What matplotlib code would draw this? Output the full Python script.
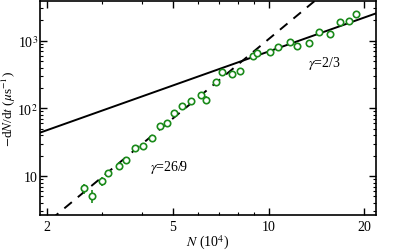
import matplotlib
matplotlib.use("Agg")
import matplotlib.pyplot as plt
from matplotlib.ticker import FixedLocator, FixedFormatter, LogLocator, NullFormatter
import numpy as np

plt.rcParams['font.family'] = ['Liberation Serif', 'DejaVu Serif']
plt.rcParams['mathtext.fontset'] = 'stix'

# 数据点 N (10^4), -dN/dt (us^-1)
n_pts = [2.62, 2.79, 2.98, 3.13, 3.37, 3.57, 3.81, 4.03, 4.30, 4.56, 4.80,
         5.05, 5.34, 5.71, 6.12, 6.36, 6.84, 7.13, 7.69, 8.15, 8.90, 9.22,
         10.07, 10.73, 11.71, 12.32, 13.37, 14.45, 15.65, 16.75, 17.88, 18.86]
rate_pts = [6.6, 5.1, 8.4, 11.1, 14.2, 17.1, 25.6, 28.0, 36.1, 55.4, 60.7,
            85.3, 109, 127, 156, 133, 248, 348, 322, 357, 600, 658,
            674, 815, 957, 835, 925, 1345, 1269, 1890, 1936, 2506]
# 相对误差
rel_err = [0.17, 0.22, 0.15, 0.12, 0.12, 0.10, 0.09, 0.08, 0.08, 0.06, 0.06,
           0.06, 0.05, 0.05, 0.05, 0.14, 0.05, 0.04, 0.04, 0.04, 0.04, 0.04,
           0.03, 0.03, 0.03, 0.03, 0.03, 0.03, 0.03, 0.03, 0.03, 0.03]

# 拟合直线
amp_solid = 14.9
exp_solid = 5.0 / 3.0
amp_dash = 0.136
exp_dash = 35.0 / 9.0

x_ticks = [2, 5, 10, 20]
y_ticks = [10, 100, 1000]
y_ticklabels = ["10", r"10$^2$", r"10$^3$"]

fig = plt.figure(figsize=(4.15, 2.53), dpi=100)
ax = fig.add_axes([0.0964, 0.146, 0.81, 0.846])

nn = np.logspace(0, 1.5, 200)
ax.plot(nn, amp_solid * nn ** exp_solid, color='k', linewidth=1.4, linestyle='-')
ax.plot(nn, amp_dash * nn ** exp_dash, color='k', linewidth=1.4,
        linestyle=(0, (5, 4)))

n_arr = np.array(n_pts)
r_arr = np.array(rate_pts)
e_arr = r_arr * np.array(rel_err)
ax.errorbar(n_arr, r_arr, yerr=e_arr, fmt='o', color='#1a8a1a', ecolor='#1a8a1a',
            markerfacecolor='white', markeredgewidth=1.2, markersize=4.6,
            elinewidth=1.2, capsize=0, zorder=3)

ax.set_xscale('log')
ax.set_yscale('log')
ax.set_xlim(1.908, 21.8)
ax.set_ylim(2.65, 3850)

ax.xaxis.set_major_locator(FixedLocator(x_ticks))
ax.xaxis.set_major_formatter(FixedFormatter([str(v) for v in x_ticks]))
ax.xaxis.set_minor_locator(LogLocator(base=10, subs=np.arange(2, 10)))
ax.xaxis.set_minor_formatter(NullFormatter())
ax.yaxis.set_major_locator(FixedLocator(y_ticks))
ax.yaxis.set_major_formatter(FixedFormatter(y_ticklabels))
ax.yaxis.set_minor_locator(LogLocator(base=10, subs=np.arange(2, 10)))
ax.yaxis.set_minor_formatter(NullFormatter())

ax.tick_params(which='both', direction='in', top=True, right=True, labelsize=10)
ax.tick_params(which='major', length=5, width=1.0)
ax.tick_params(which='minor', length=2.5, width=0.8)
ax.tick_params(axis='y', which='major', pad=1.5)
for s in ax.spines.values():
    s.set_linewidth(1.2)

ax.set_xlabel(r"$N$ (10$^4$)", fontsize=10)
ax.set_ylabel(r"$-$d$N$/d$t$ ($\mu$s$^{-1}$)", fontsize=9.5)
ax.xaxis.set_label_coords(0.5, -0.085)
ax.yaxis.set_label_coords(-0.066, 0.5)

ax.text(0.384, 0.229, r"$\gamma$=26/9", transform=ax.transAxes, fontsize=10,
        ha='center', va='center')
ax.text(0.845, 0.715, r"$\gamma$=2/3", transform=ax.transAxes, fontsize=10,
        ha='center', va='center')

plt.savefig("out.png", dpi=100)
